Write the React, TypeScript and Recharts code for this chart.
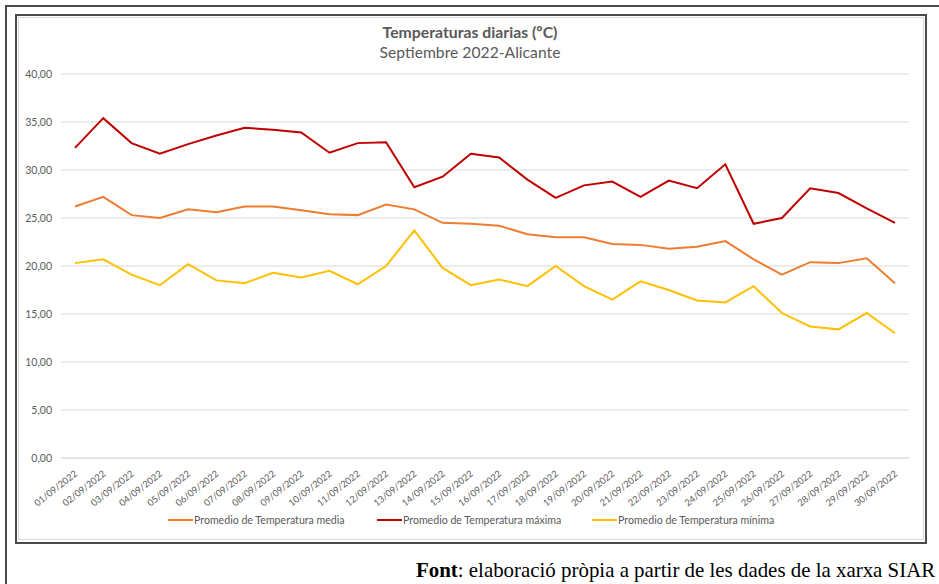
import React from "react";
import {
  LineChart,
  Line,
  XAxis,
  YAxis,
  CartesianGrid,
  Legend,
} from "recharts";

const days = [
  "01/09/2022", "02/09/2022", "03/09/2022", "04/09/2022", "05/09/2022",
  "06/09/2022", "07/09/2022", "08/09/2022", "09/09/2022", "10/09/2022",
  "11/09/2022", "12/09/2022", "13/09/2022", "14/09/2022", "15/09/2022",
  "16/09/2022", "17/09/2022", "18/09/2022", "19/09/2022", "20/09/2022",
  "21/09/2022", "22/09/2022", "23/09/2022", "24/09/2022", "25/09/2022",
  "26/09/2022", "27/09/2022", "28/09/2022", "29/09/2022", "30/09/2022",
];

const media = [
  26.2, 27.2, 25.3, 25.0, 25.9, 25.6, 26.2, 26.2, 25.8, 25.4,
  25.3, 26.4, 25.9, 24.5, 24.4, 24.2, 23.3, 23.0, 23.0, 22.3,
  22.2, 21.8, 22.0, 22.6, 20.7, 19.1, 20.4, 20.3, 20.8, 18.2,
];

const maxima = [
  32.3, 35.4, 32.8, 31.7, 32.7, 33.6, 34.4, 34.2, 33.9, 31.8,
  32.8, 32.9, 28.2, 29.3, 31.7, 31.3, 29.0, 27.1, 28.4, 28.8,
  27.2, 28.9, 28.1, 30.6, 24.4, 25.0, 28.1, 27.6, 26.0, 24.5,
];

const minima = [
  20.3, 20.7, 19.1, 18.0, 20.2, 18.5, 18.2, 19.3, 18.8, 19.5,
  18.1, 20.0, 23.7, 19.8, 18.0, 18.6, 17.9, 20.0, 17.9, 16.5,
  18.4, 17.5, 16.4, 16.2, 17.9, 15.1, 13.7, 13.4, 15.1, 13.0,
];

const yTicks = [0, 5, 10, 15, 20, 25, 30, 35, 40];

const data = days.map((d, i) => ({
  day: d,
  media: media[i],
  maxima: maxima[i],
  minima: minima[i],
}));

const FONT = "Lato, 'Open Sans', sans-serif";
const GREY = "#595959";

const DayTick = (props: any) => {
  const { x, y, payload } = props;
  return (
    <text
      x={x + 3}
      y={y + 9}
      transform={`rotate(-38, ${x + 3}, ${y + 9})`}
      textAnchor="end"
      fontSize={9.3}
      fontFamily={FONT}
      fill={GREY}
    >
      {payload.value}
    </text>
  );
};

const legendItems = [
  { label: "Promedio de Temperatura media", color: "#ED7D31", left: 168 },
  { label: "Promedio de Temperatura máxima", color: "#C00000", left: 377 },
  { label: "Promedio de Temperatura mínima", color: "#FFC000", left: 592 },
];

const LegendContent = () => (
  <div
    style={{
      position: "relative",
      width: 939,
      height: 20,
      fontFamily: FONT,
      fontSize: 10.6,
      color: GREY,
    }}
  >
    {legendItems.map((it) => (
      <div
        key={it.label}
        style={{
          position: "absolute",
          left: it.left,
          top: 0,
          display: "flex",
          alignItems: "center",
          whiteSpace: "nowrap",
        }}
      >
        <span
          style={{
            display: "inline-block",
            width: 25,
            height: 2,
            background: it.color,
            marginRight: 1,
          }}
        />
        {it.label}
      </div>
    ))}
  </div>
);

export default function App() {
  return (
    <div
      style={{
        position: "absolute",
        left: 0,
        top: 0,
        width: 939,
        height: 584,
        overflow: "hidden",
        background: "#fff",
      }}
    >
      {/* outer frame */}
      <div
        style={{
          position: "absolute",
          left: 5,
          top: 5,
          width: 1200,
          height: 1200,
          borderLeft: "2px solid #4a4a4a",
          borderTop: "2px solid #4a4a4a",
        }}
      />
      {/* chart box */}
      <div
        style={{
          position: "absolute",
          left: 15,
          top: 14,
          width: 908,
          height: 526,
          border: "2px solid #4a4a4a",
          background: "#fff",
        }}
      >
        <div
          style={{
            position: "absolute",
            left: 1,
            top: 1,
            right: 1,
            bottom: 2,
            border: "1px solid #d9d9d9",
          }}
        />
      </div>
      <div
        style={{
          position: "absolute",
          left: 15,
          width: 910,
          top: 22,
          textAlign: "center",
          fontFamily: FONT,
          color: GREY,
        }}
      >
        <div style={{ fontWeight: 700, fontSize: 15.8, lineHeight: "20px" }}>
          Temperaturas diarias (ºC)
        </div>
        <div style={{ fontSize: 15.7, lineHeight: "20px" }}>
          Septiembre 2022-Alicante
        </div>
      </div>
      <div style={{ position: "absolute", left: 0, top: 0 }}>
        <LineChart
          width={939}
          height={542}
          data={data}
          margin={{ top: 74, right: 30, left: 11, bottom: 8 }}
        >
          <CartesianGrid vertical={false} stroke="#d9d9d9" />
          <XAxis
            dataKey="day"
            interval={0}
            height={56}
            padding={{ left: 14, right: 14 }}
            axisLine={{ stroke: "#d9d9d9" }}
            tickLine={false}
            tick={<DayTick />}
          />
          <YAxis
            width={50}
            domain={[0, 40]}
            ticks={yTicks}
            interval={0}
            axisLine={false}
            tickLine={false}
            tickSize={0}
            tickMargin={9}
            tickFormatter={(v: number) => v.toFixed(2).replace(".", ",")}
            tick={{ fontSize: 10.5, fill: GREY, fontFamily: FONT }}
          />
          <Legend
            verticalAlign="bottom"
            align="left"
            height={20}
            wrapperStyle={{ left: 0, width: 939 }}
            content={<LegendContent />}
          />
          <Line
            type="linear"
            dataKey="media"
            name="Promedio de Temperatura media"
            stroke="#ED7D31"
            strokeWidth={2}
            dot={false}
            isAnimationActive={false}
          />
          <Line
            type="linear"
            dataKey="maxima"
            name="Promedio de Temperatura máxima"
            stroke="#C00000"
            strokeWidth={2}
            dot={false}
            isAnimationActive={false}
          />
          <Line
            type="linear"
            dataKey="minima"
            name="Promedio de Temperatura mínima"
            stroke="#FFC000"
            strokeWidth={2}
            dot={false}
            isAnimationActive={false}
          />
        </LineChart>
      </div>
      <div
        style={{
          position: "absolute",
          left: 416,
          top: 558,
          whiteSpace: "nowrap",
          fontFamily: "'Liberation Serif', serif",
          fontSize: 20.9,
          color: "#000",
        }}
      >
        <b>Font</b>: elaboració pròpia a partir de les dades de la xarxa SIAR
      </div>
    </div>
  );
}
